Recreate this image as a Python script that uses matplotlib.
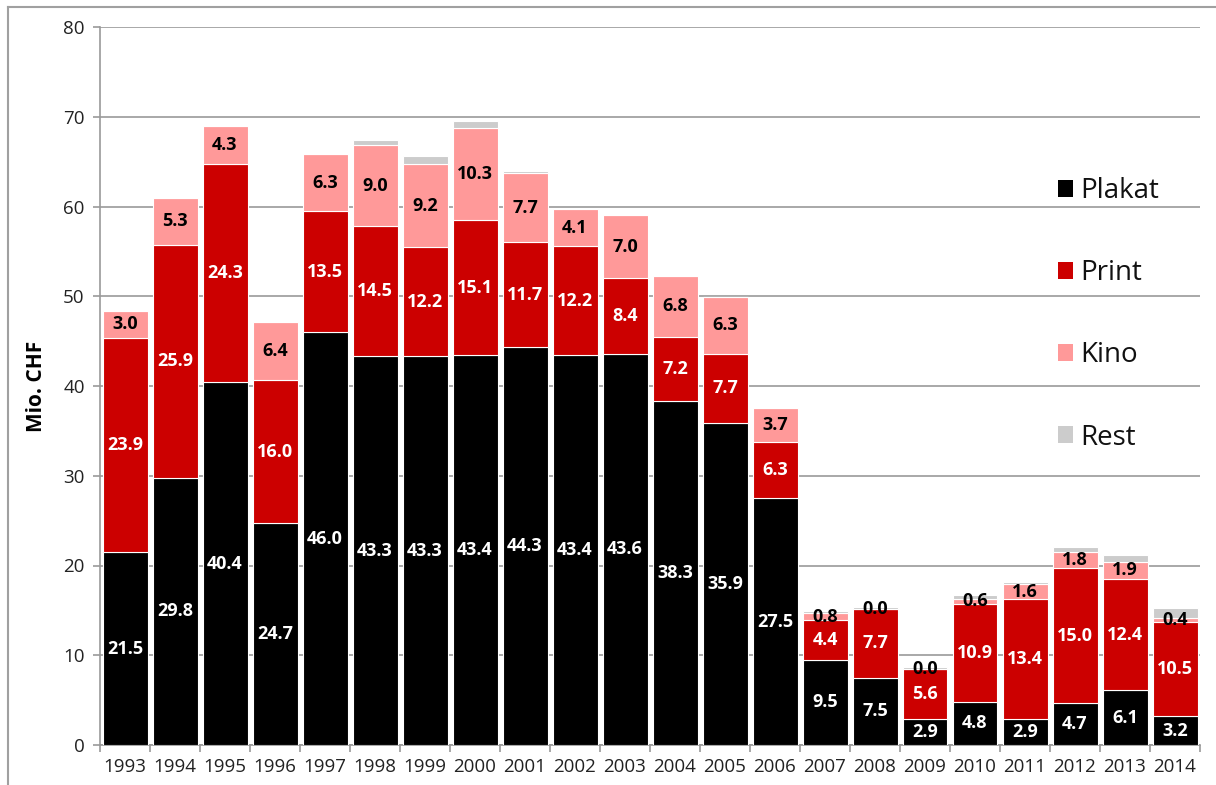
import matplotlib
matplotlib.use("Agg")
import matplotlib.pyplot as plt
from matplotlib.lines import Line2D
from matplotlib.patches import Patch
import numpy as np

years = ["1993", "1994", "1995", "1996", "1997", "1998", "1999", "2000", "2001", "2002", "2003",
         "2004", "2005", "2006", "2007", "2008", "2009", "2010", "2011", "2012", "2013", "2014"]
plakat = [21.5, 29.8, 40.4, 24.7, 46.0, 43.3, 43.3, 43.4, 44.3, 43.4, 43.6,
          38.3, 35.9, 27.5, 9.5, 7.5, 2.9, 4.8, 2.9, 4.7, 6.1, 3.2]
print_ = [23.9, 25.9, 24.3, 16.0, 13.5, 14.5, 12.2, 15.1, 11.7, 12.2, 8.4,
          7.2, 7.7, 6.3, 4.4, 7.7, 5.6, 10.9, 13.4, 15.0, 12.4, 10.5]
kino = [3.0, 5.3, 4.3, 6.4, 6.3, 9.0, 9.2, 10.3, 7.7, 4.1, 7.0,
        6.8, 6.3, 3.7, 0.8, 0.0, 0.0, 0.6, 1.6, 1.8, 1.9, 0.4]
rest = [0.0, 0.0, 0.0, 0.0, 0.0, 0.6, 0.9, 0.7, 0.3, 0.0, 0.0,
        0.0, 0.0, 0.0, 0.2, 0.2, 0.15, 0.4, 0.25, 0.6, 0.8, 1.2]

series = [("Plakat", plakat, "#000000", "white"),
          ("Print", print_, "#CC0000", "white"),
          ("Kino", kino, "#FF9999", "black"),
          ("Rest", rest, "#CCCCCC", None)]

plt.rcParams["font.family"] = ["Open Sans", "DejaVu Sans"]

W, H = 1216, 785
fig = plt.figure(figsize=(W / 100, H / 100), dpi=100)
ax = fig.add_axes([100 / W, 1 - 745 / H, 1100 / W, (745 - 27) / H])

x = np.arange(len(years))
bottom = np.zeros(len(years))
for name, vals, color, tcolor in series:
    vals = np.array(vals)
    ax.bar(x, vals, 0.9, bottom=bottom, color=color, edgecolor="white",
           linewidth=0.8, zorder=3, label=name)
    if tcolor is not None:
        for xi, b, v in zip(x, bottom, vals):
            ax.text(xi, b + v / 2, f"{v:.1f}", ha="center", va="center",
                    color=tcolor, fontsize=13, fontweight="bold", zorder=4)
    bottom += vals

ax.set_ylim(0, 80)
ax.set_xlim(-0.5, len(years) - 0.5)
ax.set_yticks(np.arange(0, 81, 10))
ax.yaxis.grid(True, color="#9a9a9a", linewidth=1.2, zorder=0)
ax.set_axisbelow(True)

ax.set_xticks(x)
ax.set_xticklabels(years)
ax.set_xticks(np.arange(-0.5, len(years), 1), minor=True)
ax.tick_params(axis="x", which="major", length=0, pad=9, labelsize=13.5, colors="#222222")
ax.tick_params(axis="x", which="minor", length=5, width=1.2, color="#9a9a9a")
ax.tick_params(axis="y", length=5, width=1.2, color="#9a9a9a", labelsize=13.5,
               labelcolor="#222222", pad=6)

for side in ["top", "right"]:
    ax.spines[side].set_visible(False)
for side in ["left", "bottom"]:
    ax.spines[side].set_color("#9a9a9a")
    ax.spines[side].set_linewidth(1.2)

ax.set_ylabel("Mio. CHF", fontsize=15, fontweight="bold", labelpad=12)

handles = [Patch(facecolor=c, edgecolor="none") for _, _, c, _ in series]
labels = [n for n, _, _, _ in series]
leg = ax.legend(handles, labels, loc="upper left",
                bbox_to_anchor=(1047 / W, 1 - 166 / H), bbox_transform=fig.transFigure,
                frameon=False, fontsize=20, handlelength=0.55, handleheight=0.55,
                handletextpad=0.25, labelspacing=1.95, borderaxespad=0)
for t in leg.get_texts():
    t.set_color("#111111")

# outer frame of the figure (left and top edges)
fig.add_artist(Line2D([8 / W, 8 / W], [0, 1 - 7 / H], transform=fig.transFigure,
                      color="#a0a0a0", linewidth=1.5))
fig.add_artist(Line2D([8 / W, 1], [1 - 7 / H, 1 - 7 / H], transform=fig.transFigure,
                      color="#a0a0a0", linewidth=1.5))

fig.savefig("out.png", dpi=100)
